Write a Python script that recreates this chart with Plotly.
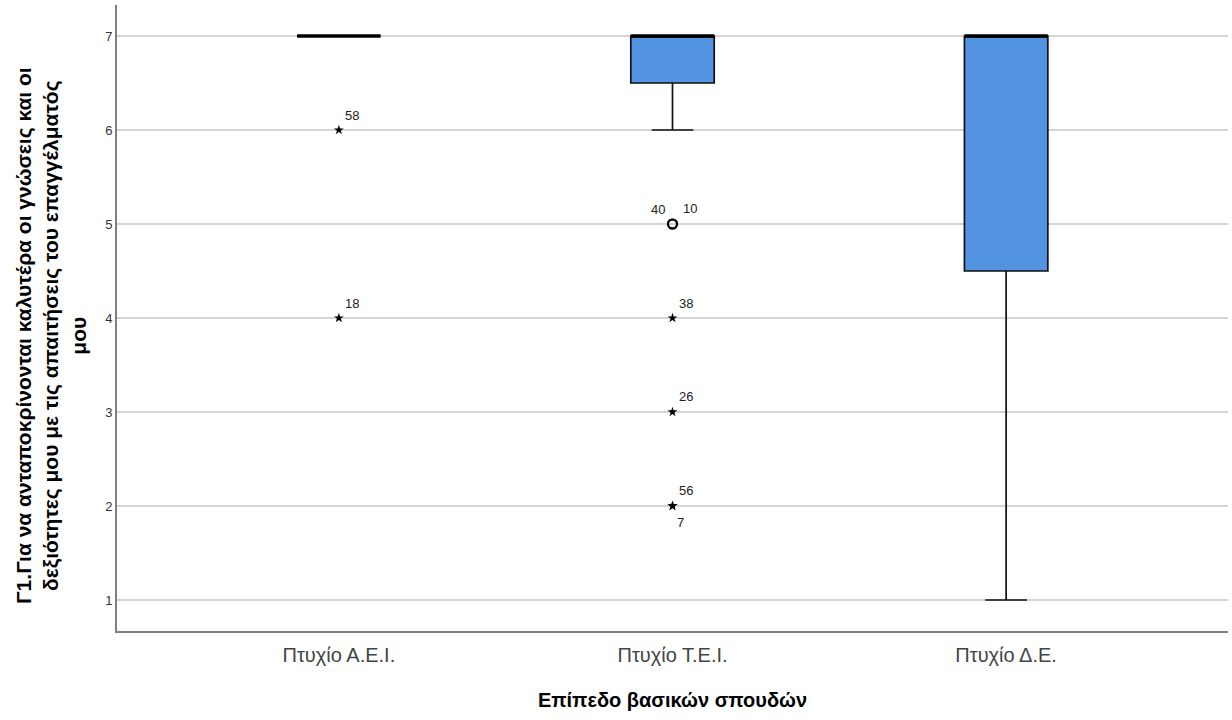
import plotly.graph_objects as go

# ---- data ----
categories = ["Πτυχίο Α.Ε.Ι.", "Πτυχίο Τ.Ε.Ι.", "Πτυχίο Δ.Ε."]
q1 = [7, 6.5, 4.5]
median = [7, 7, 7]
q3 = [7, 7, 7]
lower_whisker = [7, 6, 1]
upper_whisker = [7, 7, 7]

# outliers (circles): category index, value, case label
outlier_cat = [1, 1]
outlier_val = [5, 5]
outlier_lbl = ["40", "10"]

# extremes (stars): category index, value, case label
extreme_cat = [0, 0, 1, 1, 1, 1]
extreme_val = [6, 4, 4, 3, 2, 2]
extreme_lbl = ["58", "18", "38", "26", "56", "7"]

y_ticks = [1, 2, 3, 4, 5, 6, 7]

# ---- styling (not data) ----
BOX_W = 0.25
FILL = "#5294E2"
outlier_offsets = [(-15, 15), (17, 16)]
extreme_offsets = [(13, 15), (13, 15), (13, 15), (13, 15), (13, 15), (8, -17)]

fig = go.Figure()
xs = list(range(len(categories)))

fig.add_trace(go.Box(
    x=xs, q1=q1, median=median, q3=q3,
    lowerfence=lower_whisker, upperfence=upper_whisker,
    width=BOX_W, whiskerwidth=0.5, fillcolor=FILL,
    line=dict(color="#111", width=1.7), boxpoints=False,
    showlegend=False, hoverinfo="skip",
))

# thick median lines
for i, m in zip(xs, median):
    fig.add_trace(go.Scatter(
        x=[i - BOX_W / 2, i + BOX_W / 2], y=[m, m], mode="lines",
        line=dict(color="black", width=3.5), showlegend=False, hoverinfo="skip",
    ))

fig.add_trace(go.Scatter(
    x=outlier_cat, y=outlier_val, mode="markers",
    marker=dict(symbol="circle-open", size=9, color="black", line=dict(width=2)),
    showlegend=False, hoverinfo="skip",
))
fig.add_trace(go.Scatter(
    x=extreme_cat, y=extreme_val, mode="markers",
    marker=dict(symbol="star", size=7.5, color="black", line=dict(width=0)),
    showlegend=False, hoverinfo="skip",
))

annotations = []
for (c, v, t), (dx, dy) in zip(zip(outlier_cat, outlier_val, outlier_lbl), outlier_offsets):
    annotations.append(dict(x=c, y=v, xref="x", yref="y", text=t, showarrow=False,
                            xshift=dx, yshift=dy, font=dict(size=13, color="#222")))
for (c, v, t), (dx, dy) in zip(zip(extreme_cat, extreme_val, extreme_lbl), extreme_offsets):
    annotations.append(dict(x=c, y=v, xref="x", yref="y", text=t, showarrow=False,
                            xshift=dx, yshift=dy, font=dict(size=13, color="#222")))

annotations.append(dict(
    text="<b>Γ1.Για να ανταποκρίνονται καλυτέρα οι γνώσεις και οι<br>"
         "δεξιότητες μου με τις απαιτήσεις του επαγγέλματός<br>μου</b>",
    xref="paper", yref="paper", x=0, y=0.5, xanchor="center", yanchor="middle",
    xshift=-66, yshift=-18, textangle=-90, showarrow=False,
    font=dict(family="Liberation Sans, Arial", size=21, color="black"),
))

fig.update_layout(
    width=1232, height=720,
    margin=dict(l=117, r=4, t=5, b=89),
    paper_bgcolor="white", plot_bgcolor="white",
    font=dict(family="Liberation Sans, Arial", color="#222"),
    annotations=annotations,
    xaxis=dict(
        range=[-0.665, 2.665], tickvals=xs, ticktext=categories,
        showgrid=False, zeroline=False, showline=True, linecolor="#7f7f7f", linewidth=2,
        tickfont=dict(family="Liberation Sans, Arial", size=20, color="#444"),
        ticklabelstandoff=5,
        ticks="", title=dict(text="<b>Επίπεδο βασικών σπουδών</b>", standoff=28,
                             font=dict(size=20, color="black")),
    ),
    yaxis=dict(
        range=[0.67, 7.33], tickvals=y_ticks,
        showgrid=True, gridcolor="#d4d4d4", gridwidth=2, zeroline=False,
        showline=True, linecolor="#7f7f7f", linewidth=2,
        tickfont=dict(size=13, color="#333"), ticks="",
    ),
)

fig.write_html("out.html")
